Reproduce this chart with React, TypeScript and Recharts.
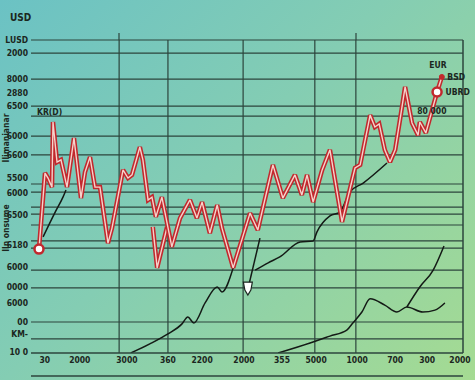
import React from 'react';
import { LineChart, Line, XAxis, YAxis, ReferenceLine, ReferenceDot } from 'recharts';

// main red series (time index 0-100, value 0-100)
const redX = [1.85, 3.24, 3.94, 4.86, 5.09, 6.02, 6.94, 7.87, 8.33, 9.95, 11.57, 12.5, 13.66, 14.81, 15.97, 17.82, 18.75, 21.3, 22.45, 23.38, 25.2, 25.9, 27.1, 28.0, 28.9, 30.3, 32.6, 34.5, 36.8, 38.4, 39.6, 41.4, 43.1, 44.2, 46.8, 50.7, 52.5, 56.0, 58.3, 61.1, 62.7, 63.9, 65.3, 67.4, 69.2, 72.0, 75.0, 76.2, 78.5, 79.6, 80.6, 81.9, 83.1, 84.3, 85.4, 86.6, 88.2, 89.6, 90.0, 91.4, 94.0, 95.1];
const redY = [33.2, 57.5, 55.9, 53.0, 73.8, 61.0, 61.7, 55.9, 53.0, 68.7, 49.5, 57.8, 62.6, 53.0, 53.0, 35.1, 39.9, 58.5, 55.9, 56.9, 65.8, 61.7, 48.9, 49.8, 43.5, 49.8, 33.9, 43.1, 48.9, 43.1, 48.2, 38.3, 47.3, 39.9, 27.2, 44.7, 39.3, 60.1, 49.5, 56.9, 50.5, 56.9, 48.2, 58.5, 64.9, 41.9, 59.1, 60.1, 76.0, 72.2, 73.2, 64.9, 61.0, 64.9, 74.4, 85.0, 73.5, 69.6, 73.8, 70.3, 83.4, 88.2];

const redBranchX = [28.2, 29.2, 31.5];
const redBranchY = [40.3, 27.2, 40.3];

// black series
const blackAX = [2.8, 5.6, 7.4, 8.1];
const blackAY = [37.1, 45.0, 49.8, 52.1];

const blackBX = [23.1, 27.5, 31.7, 34.95, 36.3, 37.7, 40.3, 43.1, 44.2, 46.8];
const blackBY = [0, 2.9, 6.1, 9.3, 11.5, 9.6, 16.0, 21.1, 19.5, 27.2];

const arrowX = [53.0, 50.2];
const arrowY = [36.7, 20.4];

const blackCX = [51.9, 54.9, 57.6, 62.3, 65.3, 66.2, 69.2, 71.5, 73.8, 76.9, 82.4];
const blackCY = [26.5, 28.8, 30.7, 35.5, 35.8, 38.7, 43.8, 45.0, 51.4, 54.3, 60.7];

const blackDX = [57.2, 64.6, 69.2, 73.1, 74.5, 76.6, 78.5, 81.9, 84.7, 87.0, 90.7, 93.5, 95.8];
const blackDY = [0, 3.2, 5.4, 7.3, 9.6, 13.1, 17.3, 15.3, 13.1, 14.7, 13.1, 13.7, 16.0];

const blackEX = [87.0, 90.0, 93.1, 95.6];
const blackEY = [14.7, 21.1, 26.5, 34.2];

// ticks and grid
const leftTickVals = [100, 95.8, 87.5, 83.1, 78.9, 69.3, 63.3, 55.9, 51.1, 44.1, 34.5, 27.5, 21.1, 16.0, 9.9, 6.1, 0.3];
const leftTickLabels = ['LUSD', '2000', '8000', '2880', '6500', '6000', '6600', '5500', '6000', '6500', '6180', '6000', '0000', '6000', '00', 'KM-', '10 0'];

const rightTickVals = [69.3, 63.3, 51.4, 44.4, 35.8, 20.8, 9.9];
const rightTickLabels = ['1.0', '3.5', '0.0', '5.0', '1.0', '8.0', '0.0'];

const xTickVals = [3.2, 11.3, 22.2, 31.7, 39.6, 49.3, 58.1, 66.0, 75.5, 84.3, 91.7, 99.3];
const xTickLabels = ['30', '2000', '3000', '360', '2200', '2000', '355', '5000', '1000', '700', '300', '2000'];

const gridY = [100, 95.8, 87.5, 78.9, 75.7, 69.3, 63.3, 54.0, 51.4, 46.6, 44.4, 40.9, 35.8, 33.5, 26.5, 20.8, 9.9, 4.5];
const gridX = [20.4, 31.7, 49.1, 65.7, 75.2];

const toPts = (xs: number[], ys: number[]) => xs.map((x, i) => ({ x, y: ys[i] }));

const FONT = '"DejaVu Sans Condensed", "DejaVu Sans", sans-serif';
const INK = '#1b2620';
const GRID = '#2c443c';
const RED = '#c2282d';
const RED_IN = '#f6d3cc';

const LeftTick = (props: any) => {
  const { x, y, payload } = props;
  const i = leftTickVals.indexOf(payload.value);
  return (
    <text x={x} y={y} dy={3} textAnchor="end" fontSize={8.5} fontWeight="bold" fontFamily={FONT} fill={INK}>
      {leftTickLabels[i]}
    </text>
  );
};

const RightTick = (props: any) => {
  const { x, y, payload } = props;
  const i = rightTickVals.indexOf(payload.value);
  return (
    <g>
      <line x1={x - 16} x2={x - 12} y1={y} y2={y} stroke={INK} strokeWidth={1} />
      <line x1={x - 3} x2={x} y1={y} y2={y} stroke={INK} strokeWidth={1} />
      <text x={x - 7.5} y={y} dy={2.5} textAnchor="middle" fontSize={7} fontWeight="bold" fontFamily={FONT} fill={INK}>
        {rightTickLabels[i]}
      </text>
    </g>
  );
};

const BottomTick = (props: any) => {
  const { x, y, payload } = props;
  const i = xTickVals.indexOf(payload.value);
  return (
    <text x={x} y={y} dy={8} textAnchor="middle" fontSize={8.5} fontWeight="bold" fontFamily={FONT} fill={INK}>
      {xTickLabels[i]}
    </text>
  );
};

const ArrowHead = (props: any) => {
  const { cx, cy } = props;
  return (
    <path
      d={`M${cx - 4.5},${cy - 7} L${cx + 4.5},${cy - 7} L${cx + 3},${cy + 1} L${cx},${cy + 6} L${cx - 3},${cy + 1} Z`}
      fill="#ffffff"
      stroke={INK}
      strokeWidth={1.2}
    />
  );
};

const labelStyle = { fontSize: 8.5, fontWeight: 'bold', fontFamily: FONT, fill: INK };

export default function App() {
  const red = toPts(redX, redY);
  const redBranch = toPts(redBranchX, redBranchY);
  const blackSeries = [
    toPts(blackAX, blackAY),
    toPts(blackBX, blackBY),
    toPts(blackCX, blackCY),
    toPts(blackDX, blackDY),
    toPts(blackEX, blackEY),
  ];
  const arrow = toPts(arrowX, arrowY);

  return (
    <div
      style={{
        position: 'absolute',
        left: 0,
        top: 0,
        width: 475,
        height: 380,
        background: 'linear-gradient(135deg, #6bc2c4 0%, #84cdb3 45%, #a5db92 100%)',
        overflow: 'hidden',
      }}
    >
      <LineChart width={475} height={380} margin={{ top: 40, right: 0, bottom: 0, left: 0 }}>
        <XAxis
          type="number"
          dataKey="x"
          domain={[0, 100]}
          ticks={xTickVals}
          interval={0}
          tick={<BottomTick />}
          tickLine={false}
          tickSize={0}
          tickMargin={2}
          height={27}
          axisLine={{ stroke: GRID, strokeWidth: 1.5 }}
          allowDataOverflow
        />
        <YAxis
          type="number"
          domain={[0, 100]}
          ticks={leftTickVals}
          interval={0}
          tick={<LeftTick />}
          tickLine={false}
          tickSize={1}
          tickMargin={2}
          width={31}
          axisLine={false}
          allowDataOverflow
        />
        <YAxis
          yAxisId="r"
          orientation="right"
          type="number"
          domain={[0, 100]}
          ticks={rightTickVals}
          interval={0}
          tick={<RightTick />}
          tickLine={false}
          tickSize={0}
          tickMargin={0}
          width={12}
          axisLine={{ stroke: GRID, strokeWidth: 1.5 }}
        />

        {gridY.map((v) => (
          <ReferenceLine key={'gy' + v} y={v} stroke={GRID} strokeWidth={1.2} />
        ))}
        {gridX.map((v) => (
          <ReferenceLine key={'gx' + v} x={v} stroke={GRID} strokeWidth={1.2} />
        ))}

        {blackSeries.map((d, i) => (
          <Line
            key={'b' + i}
            data={d}
            dataKey="y"
            type="monotone"
            stroke="#141a16"
            strokeWidth={1.5}
            dot={false}
            activeDot={false}
            isAnimationActive={false}
          />
        ))}
        <Line data={arrow} dataKey="y" type="linear" stroke="#141a16" strokeWidth={1.5} dot={false} activeDot={false} isAnimationActive={false} />

        <Line data={redBranch} dataKey="y" type="linear" stroke={RED} strokeWidth={4.5} strokeMiterlimit={2} dot={false} activeDot={false} isAnimationActive={false} />
        <Line data={redBranch} dataKey="y" type="linear" stroke={RED_IN} strokeWidth={1.4} dot={false} activeDot={false} isAnimationActive={false} />
        <Line data={red} dataKey="y" type="linear" stroke={RED} strokeWidth={4.5} strokeMiterlimit={2} dot={false} activeDot={false} isAnimationActive={false} />
        <Line data={red} dataKey="y" type="linear" stroke={RED_IN} strokeWidth={1.4} strokeMiterlimit={2} dot={false} activeDot={false} isAnimationActive={false} />

        <ReferenceDot x={arrowX[1]} y={arrowY[1]} r={5} shape={<ArrowHead />} />
        <ReferenceDot x={redX[0]} y={redY[0]} r={4.5} fill="#ffffff" stroke={RED} strokeWidth={2.5} />
        <ReferenceDot x={redX[60]} y={redY[60]} r={4.5} fill="#ffffff" stroke={RED} strokeWidth={2.5}
          label={{ value: 'UBRD', position: 'right', offset: 4, ...labelStyle }} />
        <ReferenceDot x={redX[61]} y={redY[61]} r={2.5} fill={RED} stroke={RED}
          label={{ value: 'BSD', position: 'right', offset: 3, ...labelStyle }} />
        <ReferenceDot x={94.2} y={92.0} r={0} label={{ value: 'EUR', position: 'center', ...labelStyle }} />
        <ReferenceDot x={92.8} y={77.3} r={0} label={{ value: '80 000', position: 'center', ...labelStyle }} />
        <ReferenceDot x={1.4} y={77.0} r={0} label={{ value: 'KR(D)', position: 'right', offset: 0, ...labelStyle }} />
      </LineChart>

      <svg width={475} height={380} style={{ position: 'absolute', left: 0, top: 0, pointerEvents: 'none' }}>
        <text x={10} y={21} fontSize={10} fontWeight="bold" fontFamily={FONT} fill={INK}>USD</text>
        <text transform="translate(9,138) rotate(-90)" textAnchor="middle" fontSize={8.5} fontWeight="bold" fontFamily={FONT} fill={INK}>Ilimanianar</text>
        <text transform="translate(9,228) rotate(-90)" textAnchor="middle" fontSize={8.5} fontWeight="bold" fontFamily={FONT} fill={INK}>Iln onsume</text>
        <line x1={31} x2={463} y1={376} y2={376} stroke={GRID} strokeWidth={1.5} />
        <line x1={119} x2={119} y1={33} y2={40} stroke={GRID} strokeWidth={1.2} />
        <line x1={356} x2={356} y1={33} y2={40} stroke={GRID} strokeWidth={1.2} />
      </svg>
    </div>
  );
}
